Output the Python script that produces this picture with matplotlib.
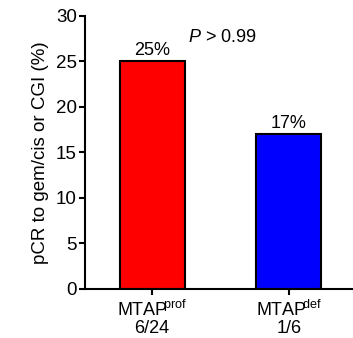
import matplotlib
matplotlib.use("Agg")
import matplotlib.pyplot as plt

# data
groups = ["prof", "def"]
counts = ["6/24", "1/6"]
pcr_rate = [25, 17]
bar_labels = ["25%", "17%"]
bar_colors = ["#ff0000", "#0000ff"]
p_text = r"$\it{P}$ > 0.99"

plt.rcParams["font.family"] = ["Liberation Sans", "DejaVu Sans"]
plt.rcParams["mathtext.fontset"] = "custom"
plt.rcParams["mathtext.rm"] = "Liberation Sans"
plt.rcParams["mathtext.it"] = "Liberation Sans:italic"


def main():
    fig = plt.figure(figsize=(3.53, 3.38), dpi=100)
    ax = fig.add_axes([0.241, 0.145, 0.759, 0.808])

    x = list(range(len(groups)))
    ax.bar(x, pcr_rate, width=0.475, color=bar_colors,
           edgecolor="black", linewidth=1.5, zorder=2)

    for xi, v, lab in zip(x, pcr_rate, bar_labels):
        ax.text(xi, v + 0.3, lab, ha="center", va="bottom", fontsize=13)
    ax.text(0.26, 26.7, p_text, ha="left", va="bottom", fontsize=13)

    ax.set_xlim(-0.49, 1.47)
    ax.set_ylim(0, 30)
    ax.set_yticks(range(0, 31, 5))
    ax.set_xticks(x)
    ax.set_xticklabels([f"$\\mathrm{{MTAP}}^{{\\!\\!\\mathrm{{{g}}}}}$\n{c}" for g, c in zip(groups, counts)],
                       fontsize=13, linespacing=1.0)
    ax.set_ylabel("pCR to gem/cis or CGI (%)", fontsize=13.5, labelpad=5)

    for s in ["top", "right"]:
        ax.spines[s].set_visible(False)
    for s in ["left", "bottom"]:
        ax.spines[s].set_linewidth(1.5)
    ax.tick_params(axis="y", labelsize=13.5, width=1.5, length=4, pad=2)
    ax.tick_params(axis="x", width=1.5, length=4, pad=4)

    fig.savefig("out.png", dpi=100)


if __name__ == "__main__":
    main()
